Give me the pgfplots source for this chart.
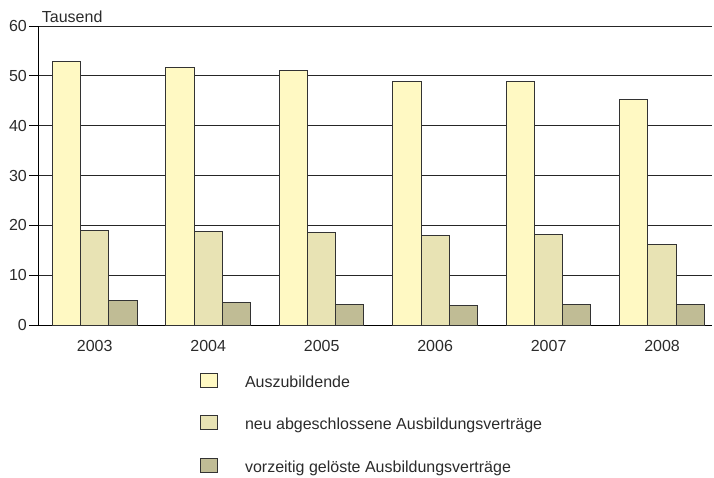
\documentclass[border=0pt]{standalone}
\usepackage{fontspec}
\setmainfont{Liberation Sans}
\usepackage{pgfplots}
\pgfplotsset{compat=1.18}

\definecolor{txt}{HTML}{2B2B2B}
\definecolor{azubi}{HTML}{FFF9C3}
\definecolor{neu}{HTML}{E8E3B4}
\definecolor{geloest}{HTML}{C0BC95}
\definecolor{edge}{HTML}{333333}

\newcommand{\chartfont}{\fontsize{16}{19}\selectfont}

\begin{document}
\begin{tikzpicture}
\useasboundingbox (0,0) rectangle (714pt,477pt);
\begin{axis}[
  name=ax,
  at={(38pt,152pt)}, anchor=south west,
  scale only axis, width=674pt, height=299pt,
  ybar=0pt, bar width=28.2pt,
  xmin=-0.5, xmax=5.44, ymin=0, ymax=60,
  xtick={0,1,2,3,4,5},
  xticklabels={2003,2004,2005,2006,2007,2008},
  ytick={0,10,20,30,40,50,60},
  axis lines*=left,
  axis line style={black, line width=1pt},
  ymajorgrids, grid style={black!85, line width=0.8pt},
  tick align=outside, major tick length=9pt,
  ytick style={black, line width=0.9pt},
  xtick style={draw=none},
  extra x ticks={0.5,1.5,2.5,3.5,4.5},
  extra x tick labels={},
  extra x tick style={grid=none, major tick length=3pt, tick style={draw=black!30, line width=0.6pt}},
  /pgf/number format/assume math mode=true,
  tick label style={font=\chartfont, text=txt},
  yticklabel style={anchor=east, inner sep=0pt, xshift=-2pt},
  xticklabel style={anchor=base, inner sep=0pt, yshift=-17pt},
  every axis plot post/.append style={
    draw=edge, line width=1pt,
    legend image code/.code={\draw[##1, line width=1pt] (0pt,-4pt) rectangle (17pt,10pt);}
  },
  legend cell align=left,
  legend style={
    at={(rel axis cs:0.2404,-0.1589)}, anchor=north west,
    draw=none, fill=none, inner sep=0pt, outer sep=0pt,
    row sep=24.5pt, column sep=27pt,
    nodes={inner sep=0pt, text depth=3.5pt, font=\chartfont, text=txt}
  },
]
% Auszubildende
\addplot[fill=azubi] coordinates {(0,52.9) (1,51.6) (2,51.0) (3,48.8) (4,48.8) (5,45.3)};
% neu abgeschlossene Ausbildungsverträge
\addplot[fill=neu] coordinates {(0,18.9) (1,18.7) (2,18.5) (3,18.0) (4,18.1) (5,16.2)};
% vorzeitig gelöste Ausbildungsverträge
\addplot[fill=geloest] coordinates {(0,5.0) (1,4.6) (2,4.2) (3,4.0) (4,4.2) (5,4.2)};
\legend{Auszubildende, neu abgeschlossene Ausbildungsverträge, vorzeitig gelöste Ausbildungsverträge}
\end{axis}
\node[anchor=base west, inner sep=0pt, font=\chartfont, text=txt]
  at ([xshift=3.7pt, yshift=4pt]ax.north west) {Tausend};
\end{tikzpicture}
\end{document}
